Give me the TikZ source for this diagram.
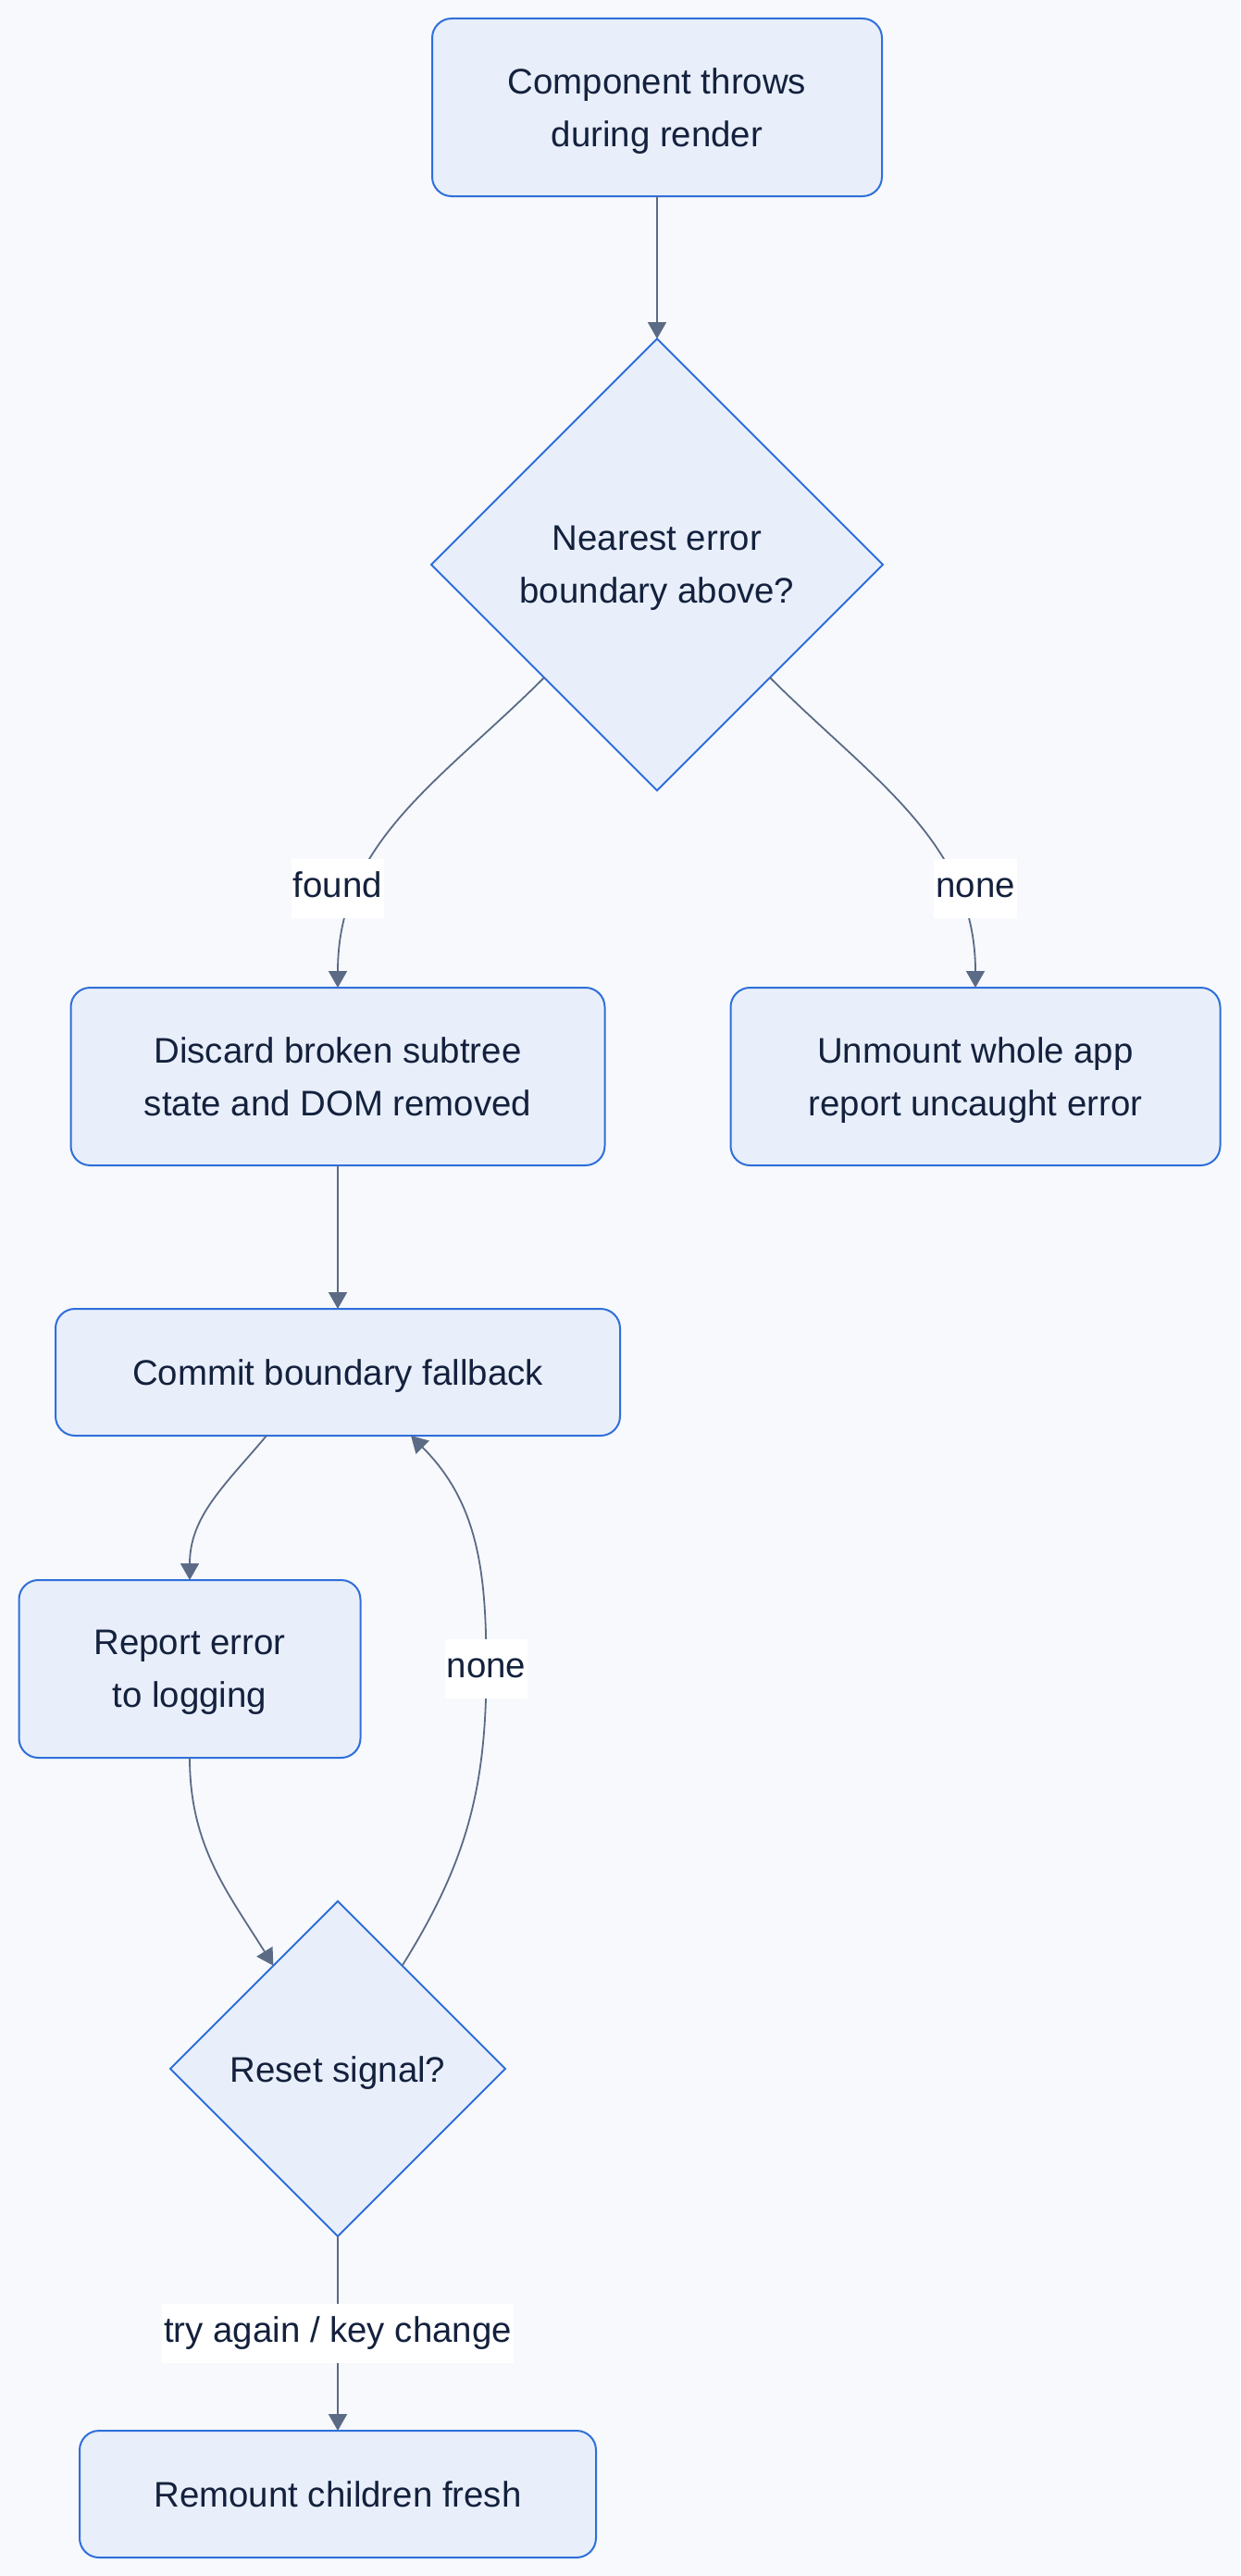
\documentclass[tikz,border=0pt]{standalone}
\usepackage{fontspec}
\setmainfont{Liberation Sans}
\definecolor{nodeFill}{HTML}{E8EFFA}
\definecolor{nodeLine}{HTML}{2F6FDB}
\definecolor{edgeLine}{HTML}{5B6B85}
\definecolor{inkText}{HTML}{14213D}
\definecolor{pageBack}{HTML}{F7F9FC}
\usepackage{tikz}
\usetikzlibrary{arrows.meta, positioning, shapes.geometric, calc}

\begin{document}
\begin{tikzpicture}[
			font=\fontsize{19.2pt}{28.5pt}\selectfont,
			box/.style={draw=nodeLine, fill=nodeFill, line width=1pt, text=inkText, align=center, inner sep=0pt, outer sep=0pt},
			oneLine/.style={text height=14pt, text depth=0pt},
			twoLine/.style={text depth=-0.5pt},
			stepBox/.style={box, twoLine, rectangle, rounded corners=10.5pt, minimum height=96pt},
			flatBox/.style={box, oneLine, rectangle, rounded corners=10.5pt, minimum height=68.5pt},
			decision/.style={box, diamond, aspect=1},
			edgeLabel/.style={fill=white, text=inkText, inner xsep=1pt, inner ysep=6.5pt, text height=14pt, text depth=5pt},
			arrowStrong/.style={line width=0.9pt, color=edgeLine, -{Triangle[length=9pt, width=10pt]}},
			]
			% page
			\fill[pageBack] (0,0) rectangle (670pt,-1391.5pt);
			\useasboundingbox (0,0) rectangle (670pt,-1391.5pt);
			
			\draw node[stepBox, minimum width=243pt] (startBox) at (355pt,-58pt) {Component throws\\during render};
			
			\draw node[decision, twoLine, minimum width=244pt, minimum height=244pt, below=77pt of startBox] (nearestDec) {Nearest error\\boundary above?};
			
			\draw node[stepBox, minimum width=288.5pt][xshift=-172.5pt, below=106.5pt of nearestDec] (discardBox) {Discard broken subtree\\state and DOM removed};
			\draw node[stepBox, minimum width=264.5pt][xshift=172pt, below=106.5pt of nearestDec] (unmountBox) {Unmount whole app\\report uncaught error};
			
			\draw node[flatBox, minimum width=305pt, below=77.5pt of discardBox] (commitBox) {Commit boundary fallback};
			
			\draw node[stepBox, minimum width=184.5pt][xshift=-80pt, below=78pt of commitBox] (reportBox) {Report error\\to logging};
			\coordinate[right=68pt of reportBox] (loopPoint);
			
			\draw node[decision, oneLine, minimum width=181pt, minimum height=181pt][xshift=80pt, below=77.5pt of reportBox] (resetDec) {Reset signal?};
			
			\draw node[flatBox, minimum width=279pt, below=105pt of resetDec] (remountBox) {Remount children fresh};
			
			% Arrow
			\draw [arrowStrong] (startBox.south) -- (nearestDec.north);
			\draw [arrowStrong] (nearestDec.-135) to[out=-135, in=90] (discardBox.north);
			\draw [arrowStrong] (nearestDec.-45) to[out=-45, in=90] (unmountBox.north);
			\draw [arrowStrong] (discardBox.south) -- (commitBox.north);
			\draw [arrowStrong] ([xshift=-38.5pt]commitBox.south) to[out=-130, in=90] (reportBox.north);
			\draw [arrowStrong] (reportBox.south) to[out=-90, in=122] (resetDec.122);
			\draw [arrowStrong] (resetDec.58) to[out=58, in=-90] (loopPoint) to[out=90, in=-45] ([xshift=39.5pt]commitBox.south);
			\draw [arrowStrong] (resetDec.south) -- (remountBox.north);
			
			% Labels
			\draw node[edgeLabel] (foundLabel) at ([yshift=53.5pt]discardBox.north) {found};
			\draw node[edgeLabel] (noneLabel) at ([yshift=53.5pt]unmountBox.north) {none};
			\draw node[edgeLabel] (loopLabel) at (loopPoint) {none};
			\draw node[edgeLabel] (retryLabel) at ($(resetDec.south)!0.5!(remountBox.north)$) {try again / key change};
			
		\end{tikzpicture}
\end{document}
